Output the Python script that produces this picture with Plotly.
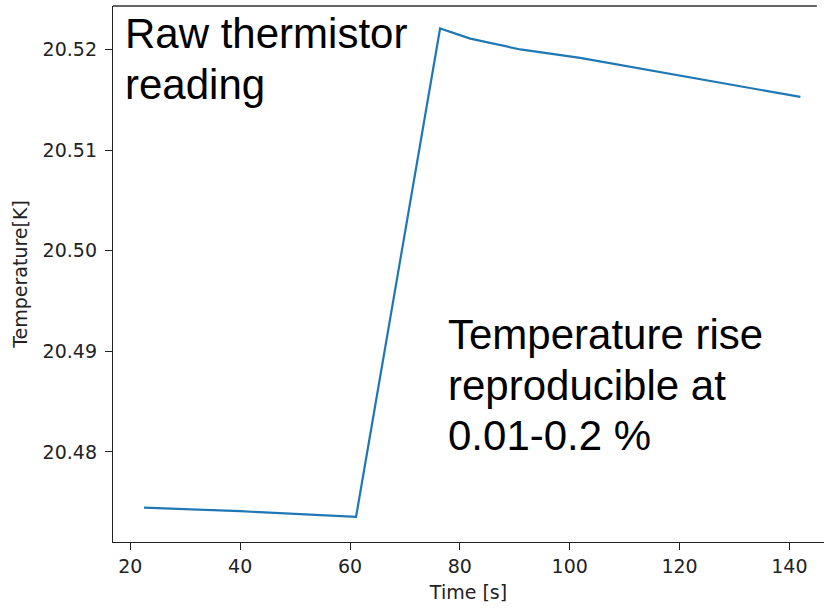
import plotly.graph_objects as go

# Data
time_s = [22.5, 40.0, 61.1, 76.4, 81.9, 91.0, 101.9, 120.0, 142.0]
temperature_k = [20.47447, 20.47411, 20.47354, 20.52209, 20.52109, 20.52001, 20.51917, 20.51744, 20.51529]

x_ticks = [20, 40, 60, 80, 100, 120, 140]
y_ticks = [20.48, 20.49, 20.50, 20.51, 20.52]

W, H = 829, 608
ML, MR, MT, MB = 113, 5, 6, 66
PW, PH = W - ML - MR, H - MT - MB


def px(xp):
    return (xp - ML) / PW


def py(yp):
    return (H - MB - yp) / PH


fig = go.Figure()
fig.add_trace(go.Scatter(
    x=time_s, y=temperature_k, mode="lines",
    line=dict(color="#1f77b4", width=2.2), showlegend=False,
))

lab_font = dict(family="DejaVu Sans", size=19, color="#222")
axis_common = dict(
    showgrid=False, zeroline=False, showline=True, linecolor="#222",
    linewidth=1.4, ticks="outside", ticklen=7, tickwidth=1.3, tickcolor="#222",
    tickfont=lab_font,
)

fig.update_xaxes(
    range=[16.85, 146.3], tickvals=x_ticks, mirror=False,
    title=dict(text="Time [s]", font=lab_font, standoff=9),
    **axis_common,
)
fig.update_yaxes(
    range=[20.47105, 20.52433], tickvals=y_ticks, tickformat=".2f",
    ticklabelstandoff=4,
    title=dict(text="Temperature[K]", font=lab_font, standoff=9),
    **axis_common,
)

# top border
fig.add_shape(type="line", xref="paper", yref="paper", x0=0, x1=0.99, y0=1, y1=1,
              line=dict(color="#333", width=1.4))

txt_font = dict(family="Liberation Sans, Arial", size=42, color="black")
lines_a = ["Raw thermistor", "reading"]
base_a = [47.5, 99.5]
for t, b in zip(lines_a, base_a):
    fig.add_annotation(text=t, xref="paper", yref="paper", x=px(123), y=py(b - 14.5),
                       xanchor="left", yanchor="middle", showarrow=False, font=txt_font)

lines_b = ["Temperature rise", "reproducible at", "0.01-0.2 %"]
base_b = [349.3, 399.5, 450.0]
for t, b in zip(lines_b, base_b):
    fig.add_annotation(text=t, xref="paper", yref="paper", x=px(446), y=py(b - 14.5),
                       xanchor="left", yanchor="middle", showarrow=False, font=txt_font)

fig.update_layout(
    width=W, height=H, margin=dict(l=ML, r=MR, t=MT, b=MB),
    paper_bgcolor="white", plot_bgcolor="white",
)

fig.write_html("out.html")
